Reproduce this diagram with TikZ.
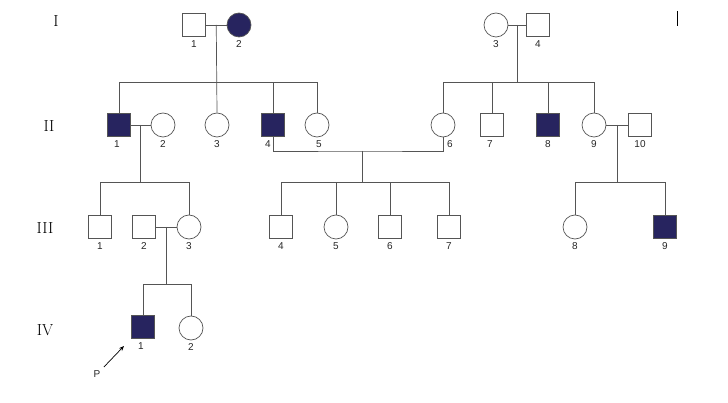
\documentclass[tikz,border=0pt]{standalone}
\usepackage{fontspec}
\setsansfont{Liberation Sans}
\usetikzlibrary{arrows.meta,calc}
\definecolor{affected}{HTML}{27245F}
\definecolor{linegray}{HTML}{555555}

\tikzset{
  person/.style={draw=linegray,line width=0.7pt,inner sep=0pt,label distance=-1pt},
  male/.style={person,rectangle,minimum size=23pt},
  female/.style={person,circle,minimum size=24pt},
  aff/.style={fill=affected},
  num/.style={font=\sffamily\fontsize{10}{10}\selectfont,text=black!85},
  gen/.style={font=\fontsize{16}{16}\selectfont},
  link/.style={draw=linegray,line width=0.7pt},
}

\begin{document}
\begin{tikzpicture}[x=1pt,y=-1pt]
  \useasboundingbox (0,0) rectangle (728,403);

  % generation labels
  \node[gen] (gI) at (56,21) {I};
  \node[gen] (gII) at (49,126) {II};
  \node[gen] (gIII) at (45,228) {III};
  \node[gen] (gIV) at (45,330) {IV};

  % generation I
  \node[male,label={[num]below:1}] (I1) at (194,25) {};
  \node[female,aff,label={[num]below:2}] (I2) at (239,25) {};
  \node[female,label={[num]below:3}] (I3) at (496,25) {};
  \node[male,label={[num]below:4}] (I4) at (538,25) {};

  % generation II
  \node[male,aff,label={[num,xshift=-2pt]below:1}] (II1) at (119,125) {};
  \node[female,label={[num]below:2}] (II2) at (163,125) {};
  \node[female,label={[num]below:3}] (II3) at (217,125) {};
  \node[male,aff,label={[num,xshift=-5pt]below:4}] (II4) at (273,125) {};
  \node[female,label={[num,xshift=2pt]below:5}] (II5) at (317,125) {};
  \node[female,label={[num,xshift=7pt]below:6}] (II6) at (443,125) {};
  \node[male,label={[num,xshift=-2pt]below:7}] (II7) at (492,125) {};
  \node[male,aff,label={[num]below:8}] (II8) at (548,125) {};
  \node[female,label={[num]below:9}] (II9) at (594,125) {};
  \node[male,label={[num]below:10}] (II10) at (640,125) {};

  % generation III
  \node[male,label={[num]below:1}] (III1) at (100,227) {};
  \node[male,label={[num]below:2}] (III2) at (144,227) {};
  \node[female,label={[num]below:3}] (III3) at (189,227) {};
  \node[male,label={[num]below:4}] (III4) at (281,227) {};
  \node[female,label={[num]below:5}] (III5) at (336,227) {};
  \node[male,label={[num]below:6}] (III6) at (390,227) {};
  \node[male,label={[num]below:7}] (III7) at (449,227) {};
  \node[female,label={[num]below:8}] (III8) at (575,227) {};
  \node[male,aff,label={[num]below:9}] (III9) at (665,227) {};

  % generation IV
  \node[male,aff,label={[num,xshift=-2pt]below:1}] (IV1) at (143,327) {};
  \node[female,label={[num]below:2}] (IV2) at (191,328) {};

  % proband
  \node[num] (P) at (97,374) {P};
  \coordinate (parr) at (124,346);
  \draw[line width=0.7pt,-{Stealth[length=5pt,width=4pt]}] (P.north east) -- (parr);

  % I-1 x I-2
  \draw[link] (I1) -- (I2);
  \coordinate (mI) at ($(I1.east)!0.5!(I2.west)$);
  \coordinate (sI) at ($(mI)+(0,57)$);
  \draw[link] (mI) -- (II3.north);
  \draw[link] (II1.north) |- (II5.north |- sI) -- (II5.north);
  \draw[link] (II4.north) -- (II4.north |- sI);

  % I-3 x I-4
  \draw[link] (I3) -- (I4);
  \coordinate (mII) at ($(I3.east)!0.5!(I4.west)$);
  \coordinate (sII) at ($(mII)+(0,57)$);
  \draw[link] (mII) -- (sII);
  \draw[link] (II6.north) |- (II9.north |- sII) -- (II9.north);
  \draw[link] (II7.north) -- (II7.north |- sII);
  \draw[link] (II8.north) -- (II8.north |- sII);

  % II-1 x II-2
  \draw[link] (II1) -- (II2);
  \coordinate (mIII) at ($(II1.east)!0.5!(II2.west)$);
  \coordinate (sIII) at ($(mIII)+(0,57)$);
  \draw[link] (mIII) -- (sIII);
  \draw[link] (III1.north) |- (III3.north |- sIII) -- (III3.north);

  % II-4 x II-6
  \coordinate (mIV) at (362,151);
  \coordinate (sIV) at (362,182);
  \draw[link] (II4.south) |- (mIV) -| (II6.south);
  \draw[link] (mIV) -- (sIV);
  \draw[link] (III4.north) |- (III7.north |- sIV) -- (III7.north);
  \draw[link] (III5.north) -- (III5.north |- sIV);
  \draw[link] (III6.north) -- (III6.north |- sIV);

  % II-9 x II-10
  \draw[link] (II9) -- (II10);
  \coordinate (mV) at ($(II9.east)!0.5!(II10.west)$);
  \coordinate (sV) at ($(mV)+(0,57)$);
  \draw[link] (mV) -- (sV);
  \draw[link] (III8.north) |- (III9.north |- sV) -- (III9.north);

  % III-2 x III-3
  \draw[link] (III2) -- (III3);
  \coordinate (mVI) at ($(III2.east)!0.5!(III3.west)$);
  \coordinate (sVI) at ($(mVI)+(0,57)$);
  \draw[link] (mVI) -- (sVI);
  \draw[link] (IV1.north) |- (IV2.north |- sVI) -- (IV2.north);

  % mark at top right
  \draw[line width=1pt] (677,11) -- (677,26);
\end{tikzpicture}
\end{document}
